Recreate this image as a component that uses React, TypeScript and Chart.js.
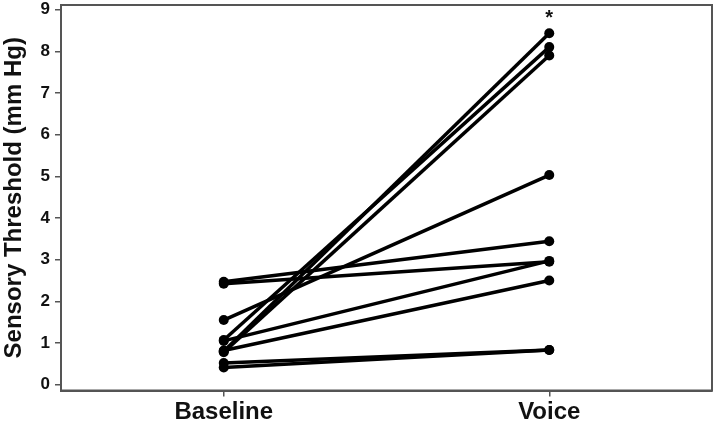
import React, { useEffect, useRef } from "react";
import { Chart, registerables } from "chart.js";

Chart.register(...registerables);

const conditions = ["Baseline", "Voice"];
const baselineValues = [0.8, 1.07, 0.78, 1.55, 2.47, 2.42, 1.05, 0.82, 0.52, 0.41];
const voiceValues = [8.43, 8.1, 7.9, 5.03, 3.44, 2.95, 2.97, 2.5, 0.83, 0.83];
const yTicks = [0, 1, 2, 3, 4, 5, 6, 7, 8, 9];
const yTitle = "Sensory Threshold (mm Hg)";
const significanceMark = "*";

const FONT = "'Liberation Sans', Arial, Helvetica, sans-serif";
const AXIS_COLOR = "#555555";

const zeroPadding = (s: any) => {
  s.paddingTop = 0;
  s.paddingBottom = 0;
  s.paddingLeft = 0;
  s.paddingRight = 0;
};

export default function App() {
  const canvasRef = useRef<HTMLCanvasElement | null>(null);

  useEffect(() => {
    const canvas = canvasRef.current;
    if (!canvas) return;

    const datasets = baselineValues.map((b, i) => ({
      label: `Subject ${i + 1}`,
      data: [
        { x: 0, y: b },
        { x: 1, y: voiceValues[i] },
      ],
      borderColor: "#000",
      backgroundColor: "#000",
      borderWidth: 3.5,
      pointRadius: 5,
      pointBackgroundColor: "#000",
      pointBorderColor: "#000",
      pointBorderWidth: 0,
      showLine: true,
      clip: false as any,
    }));

    const boxPlugin = {
      id: "boxAndMark",
      afterDraw(chart: any) {
        const { ctx, chartArea, scales } = chart;
        ctx.save();
        ctx.strokeStyle = AXIS_COLOR;
        ctx.lineWidth = 2;
        ctx.strokeRect(chartArea.left, chartArea.top, chartArea.right - chartArea.left, chartArea.bottom - chartArea.top);
        const maxVoice = Math.max(...voiceValues);
        const x = scales.x.getPixelForValue(1);
        const y = scales.y.getPixelForValue(maxVoice) - 18;
        ctx.fillStyle = "#111";
        ctx.font = `bold 20px ${FONT}`;
        ctx.textAlign = "center";
        ctx.textBaseline = "middle";
        ctx.fillText(significanceMark, x, y + 3);
        ctx.restore();
      },
    };

    const chart = new Chart(canvas, {
      type: "scatter",
      data: { datasets },
      plugins: [boxPlugin],
      options: {
        animation: false,
        responsive: false,
        maintainAspectRatio: false,
        layout: { padding: { top: 3, right: 1.5, left: 0, bottom: 0 } },
        plugins: {
          legend: { display: false },
          tooltip: { enabled: false },
        },
        scales: {
          x: {
            type: "linear",
            min: -0.5,
            max: 1.5,
            afterBuildTicks: (s: any) => {
              s.ticks = conditions.map((_, i) => ({ value: i }));
            },
            afterFit: (s: any) => {
              s.height = 31.5;
              zeroPadding(s);
            },
            grid: {
              drawOnChartArea: false,
              drawTicks: true,
              tickLength: 6,
              color: AXIS_COLOR,
              lineWidth: 1.5,
            },
            border: { display: true, color: AXIS_COLOR, width: 2 },
            ticks: {
              callback: (v: any) => conditions[v] ?? "",
              color: "#111",
              font: { family: FONT, size: 24, weight: "bold" },
              padding: 1,
              maxRotation: 0,
            },
          },
          y: {
            type: "linear",
            min: -0.14,
            max: 9.11,
            afterBuildTicks: (s: any) => {
              s.ticks = yTicks.map((v) => ({ value: v }));
            },
            afterFit: (s: any) => {
              s.width = 61;
              zeroPadding(s);
            },
            grid: {
              drawOnChartArea: false,
              drawTicks: true,
              tickLength: 6,
              color: AXIS_COLOR,
              lineWidth: 1.5,
            },
            border: { display: true, color: AXIS_COLOR, width: 2 },
            ticks: {
              color: "#111",
              font: { family: FONT, size: 17, weight: "bold" },
              padding: 5,
            },
            title: {
              display: true,
              text: yTitle,
              color: "#111",
              font: { family: FONT, size: 24, weight: "bold" },
              padding: { top: 0, bottom: 0 },
            },
          },
        },
      } as any,
    });

    return () => chart.destroy();
  }, []);

  return (
    <div style={{ position: "absolute", left: 0, top: 0, width: 717, height: 422, background: "#fff" }}>
      <canvas ref={canvasRef} width={717} height={422} style={{ width: 717, height: 422 }} />
    </div>
  );
}
